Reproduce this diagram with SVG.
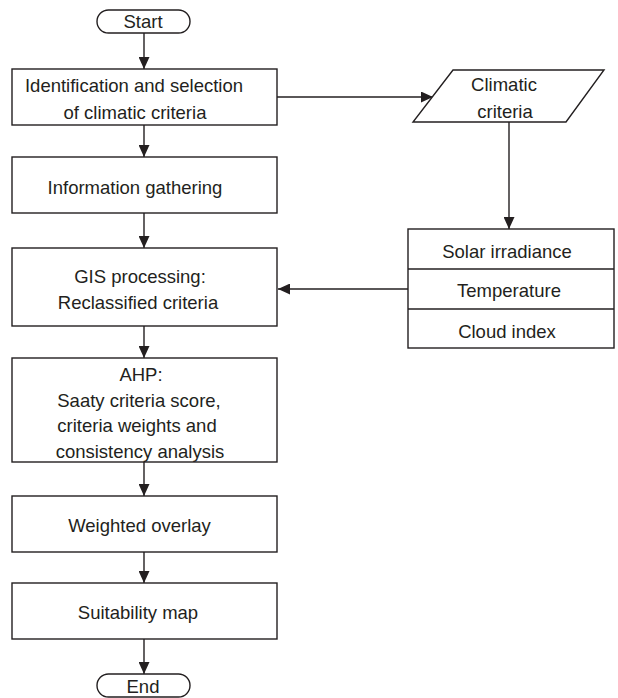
<svg xmlns="http://www.w3.org/2000/svg" width="618" height="698" viewBox="0 0 618 698">
<style>
.s{fill:#fff;stroke:#231f20;stroke-width:1.4}
.t{font-family:"Liberation Sans",Arial,sans-serif;font-size:18.5px;fill:#231f20;text-anchor:middle}
.c{fill:none;stroke:#231f20;stroke-width:1.4}
</style>
<defs>
<marker id="ah" markerUnits="userSpaceOnUse" markerWidth="12" markerHeight="11" refX="12" refY="5.5" orient="auto">
<path d="M0,0 L12,5.5 L0,11 Z" fill="#231f20"/>
</marker>
</defs>
<rect width="618" height="698" fill="#fff"/>
<g id="connectors">
<line class="c" x1="144" y1="33" x2="144" y2="69" marker-end="url(#ah)"/>
<line class="c" x1="144" y1="125" x2="144" y2="157" marker-end="url(#ah)"/>
<line class="c" x1="144" y1="213" x2="144" y2="248" marker-end="url(#ah)"/>
<line class="c" x1="144" y1="326" x2="144" y2="358" marker-end="url(#ah)"/>
<line class="c" x1="144" y1="462" x2="144" y2="496" marker-end="url(#ah)"/>
<line class="c" x1="144" y1="552" x2="144" y2="583" marker-end="url(#ah)"/>
<line class="c" x1="144" y1="639" x2="144" y2="674" marker-end="url(#ah)"/>
<line class="c" x1="277" y1="97" x2="433" y2="97" marker-end="url(#ah)"/>
<line class="c" x1="509" y1="122" x2="509" y2="229" marker-end="url(#ah)"/>
<line class="c" x1="408" y1="289" x2="278" y2="289" marker-end="url(#ah)"/>
</g>
<g id="start">
<rect class="s" x="97" y="10" width="93" height="23" rx="11.5"/>
<text class="t" x="143" y="28">Start</text>
</g>
<g id="identification">
<rect class="s" x="12" y="69" width="265" height="56"/>
<text class="t" x="134" y="92">Identification and selection</text>
<text class="t" x="135" y="119">of climatic criteria</text>
</g>
<g id="information">
<rect class="s" x="12" y="157" width="265" height="56"/>
<text class="t" x="135" y="194">Information gathering</text>
</g>
<g id="gis">
<rect class="s" x="12" y="248" width="265" height="78"/>
<text class="t" x="140" y="283">GIS processing:</text>
<text class="t" x="138" y="309">Reclassified criteria</text>
</g>
<g id="ahp">
<rect class="s" x="12" y="358" width="265" height="104"/>
<text class="t" x="141" y="381">AHP:</text>
<text class="t" x="139" y="407">Saaty criteria score,</text>
<text class="t" x="137" y="432">criteria weights and</text>
<text class="t" x="140" y="458">consistency analysis</text>
</g>
<g id="weighted">
<rect class="s" x="12" y="496" width="265" height="56"/>
<text class="t" x="139.5" y="532">Weighted overlay</text>
</g>
<g id="suitability">
<rect class="s" x="12" y="583" width="265" height="56"/>
<text class="t" x="138" y="619">Suitability map</text>
</g>
<g id="end">
<rect class="s" x="97" y="674" width="93" height="23" rx="11.5"/>
<text class="t" x="143" y="693">End</text>
</g>
<g id="climatic">
<polygon class="s" points="453,70 604,70 566,122 413,122"/>
<text class="t" x="504" y="91">Climatic</text>
<text class="t" x="505" y="118">criteria</text>
</g>
<g id="criteria-table">
<rect class="s" x="408" y="229" width="206" height="119"/>
<line class="c" x1="408" y1="269" x2="614" y2="269"/>
<line class="c" x1="408" y1="309" x2="614" y2="309"/>
<text class="t" x="507" y="258">Solar irradiance</text>
<text class="t" x="509" y="297">Temperature</text>
<text class="t" x="507" y="338">Cloud index</text>
</g>
</svg>
